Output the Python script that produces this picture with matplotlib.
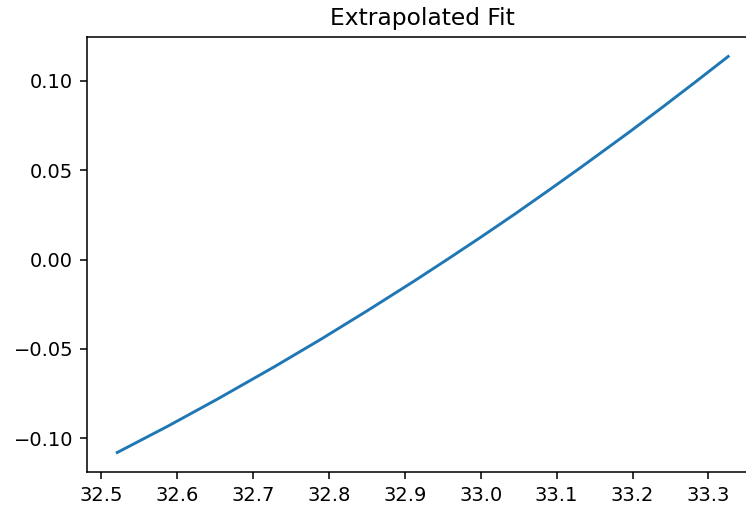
import numpy as np
import matplotlib
matplotlib.use("Agg")
import matplotlib.pyplot as plt

# values
temp = [32.521, 32.588, 32.654, 32.729, 32.790, 32.852, 32.913, 32.957,
        33.001, 33.045, 33.089, 33.131, 33.195, 33.239, 33.283, 33.326]
fit = [-0.1079, -0.0931, -0.0778, -0.0597, -0.0444, -0.0282, -0.0118, 0.0004,
       0.0128, 0.0255, 0.0386, 0.0513, 0.0711, 0.0851, 0.0994, 0.1136]

dpi = 140
fig = plt.figure(figsize=(746 / dpi, 507 / dpi), dpi=dpi)
W, H = 746, 507
ax = fig.add_axes([86.7 / W, (H - 472.3) / H, 672 / W, 435.6 / H])

ax.plot(temp, fit, color="#1f77b4", linewidth=1.5)
ax.set_title("Extrapolated Fit")

fig.savefig("out.png", dpi=dpi)
